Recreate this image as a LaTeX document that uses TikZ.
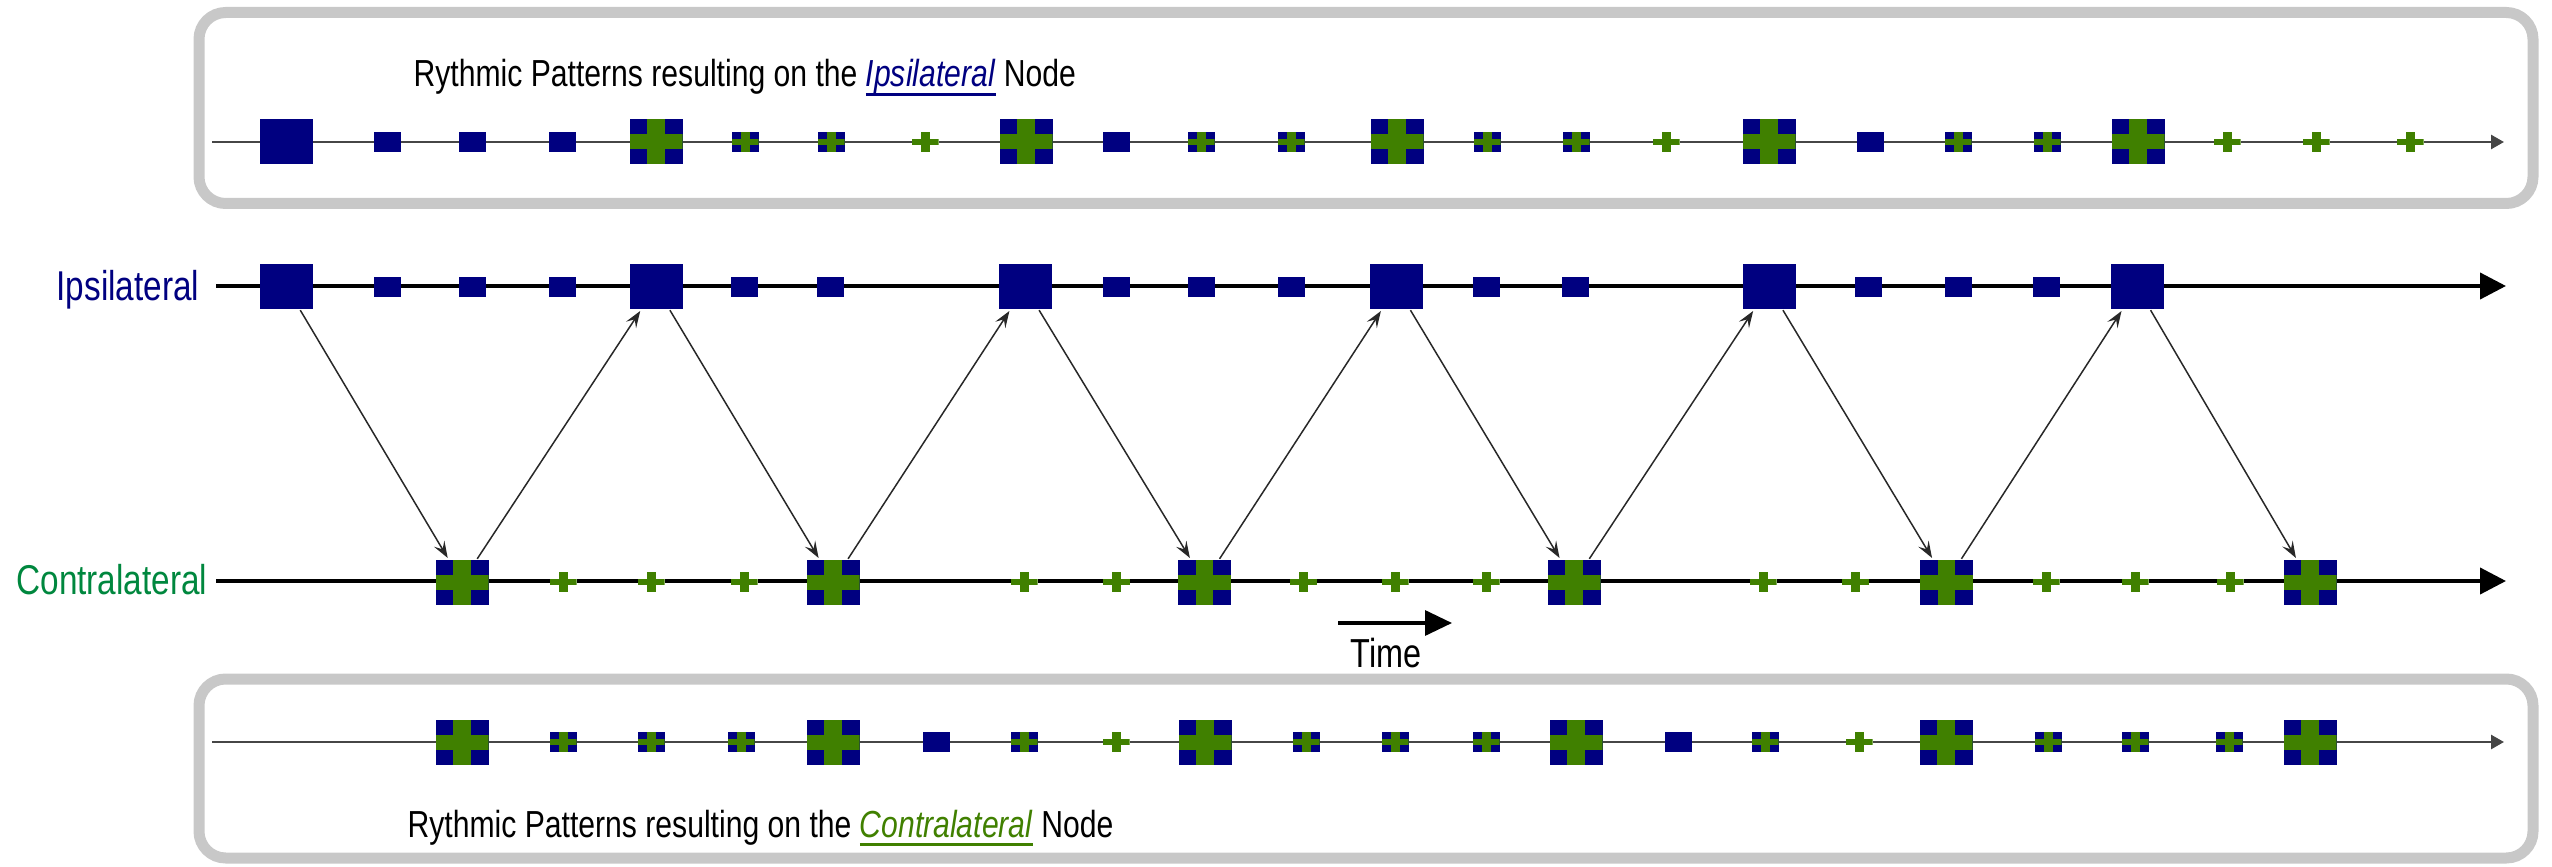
\documentclass[tikz,border=0pt]{standalone}
\usepackage{fontspec}
\setmainfont{Liberation Sans}[FakeStretch=0.8]
\usetikzlibrary{arrows.meta,calc}
\definecolor{navyb}{RGB}{0,0,128}
\definecolor{crossg}{RGB}{64,128,0}
\definecolor{labg}{RGB}{0,135,62}
\definecolor{bandg}{RGB}{200,200,200}
\definecolor{axisg}{RGB}{70,70,70}
\definecolor{connc}{RGB}{40,40,40}
\newcommand\myul[2]{\setbox0\hbox{{\color{#1}\itshape #2\/}}\rlap{{\color{#1}\rule[-2.6pt]{\wd0}{0.8pt}}}\box0}
\tikzset{
  x=0.3pt, y=-0.3pt,
  bsq/.style={rectangle, inner sep=0pt, minimum width=15.9pt, minimum height=13.5pt, fill=navyb},
  ssq/.style={rectangle, inner sep=0pt, minimum width=8.1pt, minimum height=6pt, fill=navyb},
  withcross/.style={path picture={
    \fill[crossg] ($(path picture bounding box.north west)!1/3!(path picture bounding box.north east)$) rectangle ($(path picture bounding box.south west)!2/3!(path picture bounding box.south east)$);
    \fill[crossg] ($(path picture bounding box.north west)!1/3!(path picture bounding box.south west)$) rectangle ($(path picture bounding box.north east)!2/3!(path picture bounding box.south east)$);
  }},
  bsqx/.style={bsq, withcross},
  ssqx/.style={ssq, withcross},
  xonly/.style={ssq, fill=white, withcross},
  band/.style={draw=bandg, line width=3.3pt, rounded corners=8pt},
  boxaxis/.style={draw=axisg, line width=0.8pt, -{Triangle[length=3.9pt,width=4.2pt]}},
  mainaxis/.style={draw=black, line width=1.2pt, -{Triangle[length=7.8pt,width=7.8pt]}},
  conn/.style={draw=connc, line width=0.45pt, -{Stealth[length=5pt,width=3.6pt,inset=2pt]}, shorten >=0.3pt},
  capfont/.style={font=\fontsize{11.3pt}{13pt}\selectfont},
  labfont/.style={font=\fontsize{12.5pt}{15pt}\selectfont},
}
\begin{document}
\begin{tikzpicture}
\path[use as bounding box] (0,0) rectangle (2552,867);
% boxes
\draw[band] (199,12.5) rectangle (2533,203.5);
\draw[band] (199,679) rectangle (2533,858);
% axes
\coordinate (tA) at (212,142); \coordinate (tB) at (2504,142);
\coordinate (bA) at (212,742); \coordinate (bB) at (2504,742);
\coordinate (iA) at (216,286); \coordinate (iB) at (2506,286);
\coordinate (cA) at (216,581); \coordinate (cB) at (2506,581);
\coordinate (timeA) at (1338,623); \coordinate (timeB) at (1452,623);
\draw[boxaxis] (tA) -- (tB);
\draw[boxaxis] (bA) -- (bB);
\draw[mainaxis] (iA) -- (iB);
\draw[mainaxis] (cA) -- (cB);
\draw[line width=1pt, -{Triangle[length=8.1pt,width=7.5pt]}] (timeA) -- (timeB);
% labels
\node[labfont, anchor=base east, text=navyb, inner sep=0pt] (ipl) at (200,300) {Ipsilateral};
\node[labfont, anchor=base east, text=labg, inner sep=0pt] (cpl) at (208,594) {Contralateral};
\node[font=\fontsize{12.15pt}{14pt}\selectfont, anchor=base, inner sep=0pt] (timel) at (1386,667) {Time};
\node[capfont, anchor=base west, inner sep=0pt] (capt) at (413,87) {Rythmic Patterns resulting on the \myul{navyb}{Ipsilateral}\ Node};
\node[capfont, anchor=base west, inner sep=0pt] (capb) at (407,837) {Rythmic Patterns resulting on the \myul{crossg}{Contralateral}\ Node};
% top box items
\foreach \xx/\st [count=\i] in {286.5/bsq, 387/ssq, 472/ssq, 562/ssq, 656/bsqx, 745/ssqx, 831/ssqx, 925/xonly, 1026/bsqx, 1116/ssq, 1201/ssqx, 1291/ssqx, 1397/bsqx, 1487/ssqx, 1576/ssqx, 1666/xonly, 1769/bsqx, 1870/ssq, 1958/ssqx, 2047/ssqx, 2138/bsqx, 2227/xonly, 2316/xonly, 2410/xonly}
  \node[\st] (t\i) at (\xx,142) {};
% bottom box items
\foreach \xx/\st [count=\i] in {462/bsqx, 563/ssqx, 651/ssqx, 741/ssqx, 833/bsqx, 936/ssq, 1024/ssqx, 1116/xonly, 1205/bsqx, 1306/ssqx, 1395/ssqx, 1486/ssqx, 1576/bsqx, 1678/ssq, 1765/ssqx, 1859/xonly, 1946/bsqx, 2048/ssqx, 2135/ssqx, 2229/ssqx, 2310/bsqx}
  \node[\st] (b\i) at (\xx,742) {};
% ipsilateral line
\foreach \xx [count=\i] in {387, 472.7, 562, 744, 830, 1116.5, 1201, 1291, 1486, 1575.5, 1868.5, 1958, 2046}
  \node[ssq] (is\i) at (\xx,287) {};
\foreach \xx [count=\i] in {286.5, 656, 1025, 1396.5, 1769, 2137}
  \node[bsq] (I\i) at (\xx,287) {};
% contralateral line
\foreach \xx [count=\i] in {563, 651, 744, 1024, 1116.5, 1303.7, 1395, 1486, 1763, 1855.5, 2046, 2135, 2230}
  \node[xonly] (cs\i) at (\xx,582) {};
\foreach \xx [count=\i] in {462, 833, 1204.5, 1574, 1946.5, 2310}
  \node[bsqx] (C\i) at (\xx,582) {};
% connectors
\draw[conn] (I1) -- (C1);
\draw[conn] (C1) -- (I2);
\draw[conn] (I2) -- (C2);
\draw[conn] (C2) -- (I3);
\draw[conn] (I3) -- (C3);
\draw[conn] (C3) -- (I4);
\draw[conn] (I4) -- (C4);
\draw[conn] (C4) -- (I5);
\draw[conn] (I5) -- (C5);
\draw[conn] (C5) -- (I6);
\draw[conn] (I6) -- (C6);
\end{tikzpicture}
\end{document}
